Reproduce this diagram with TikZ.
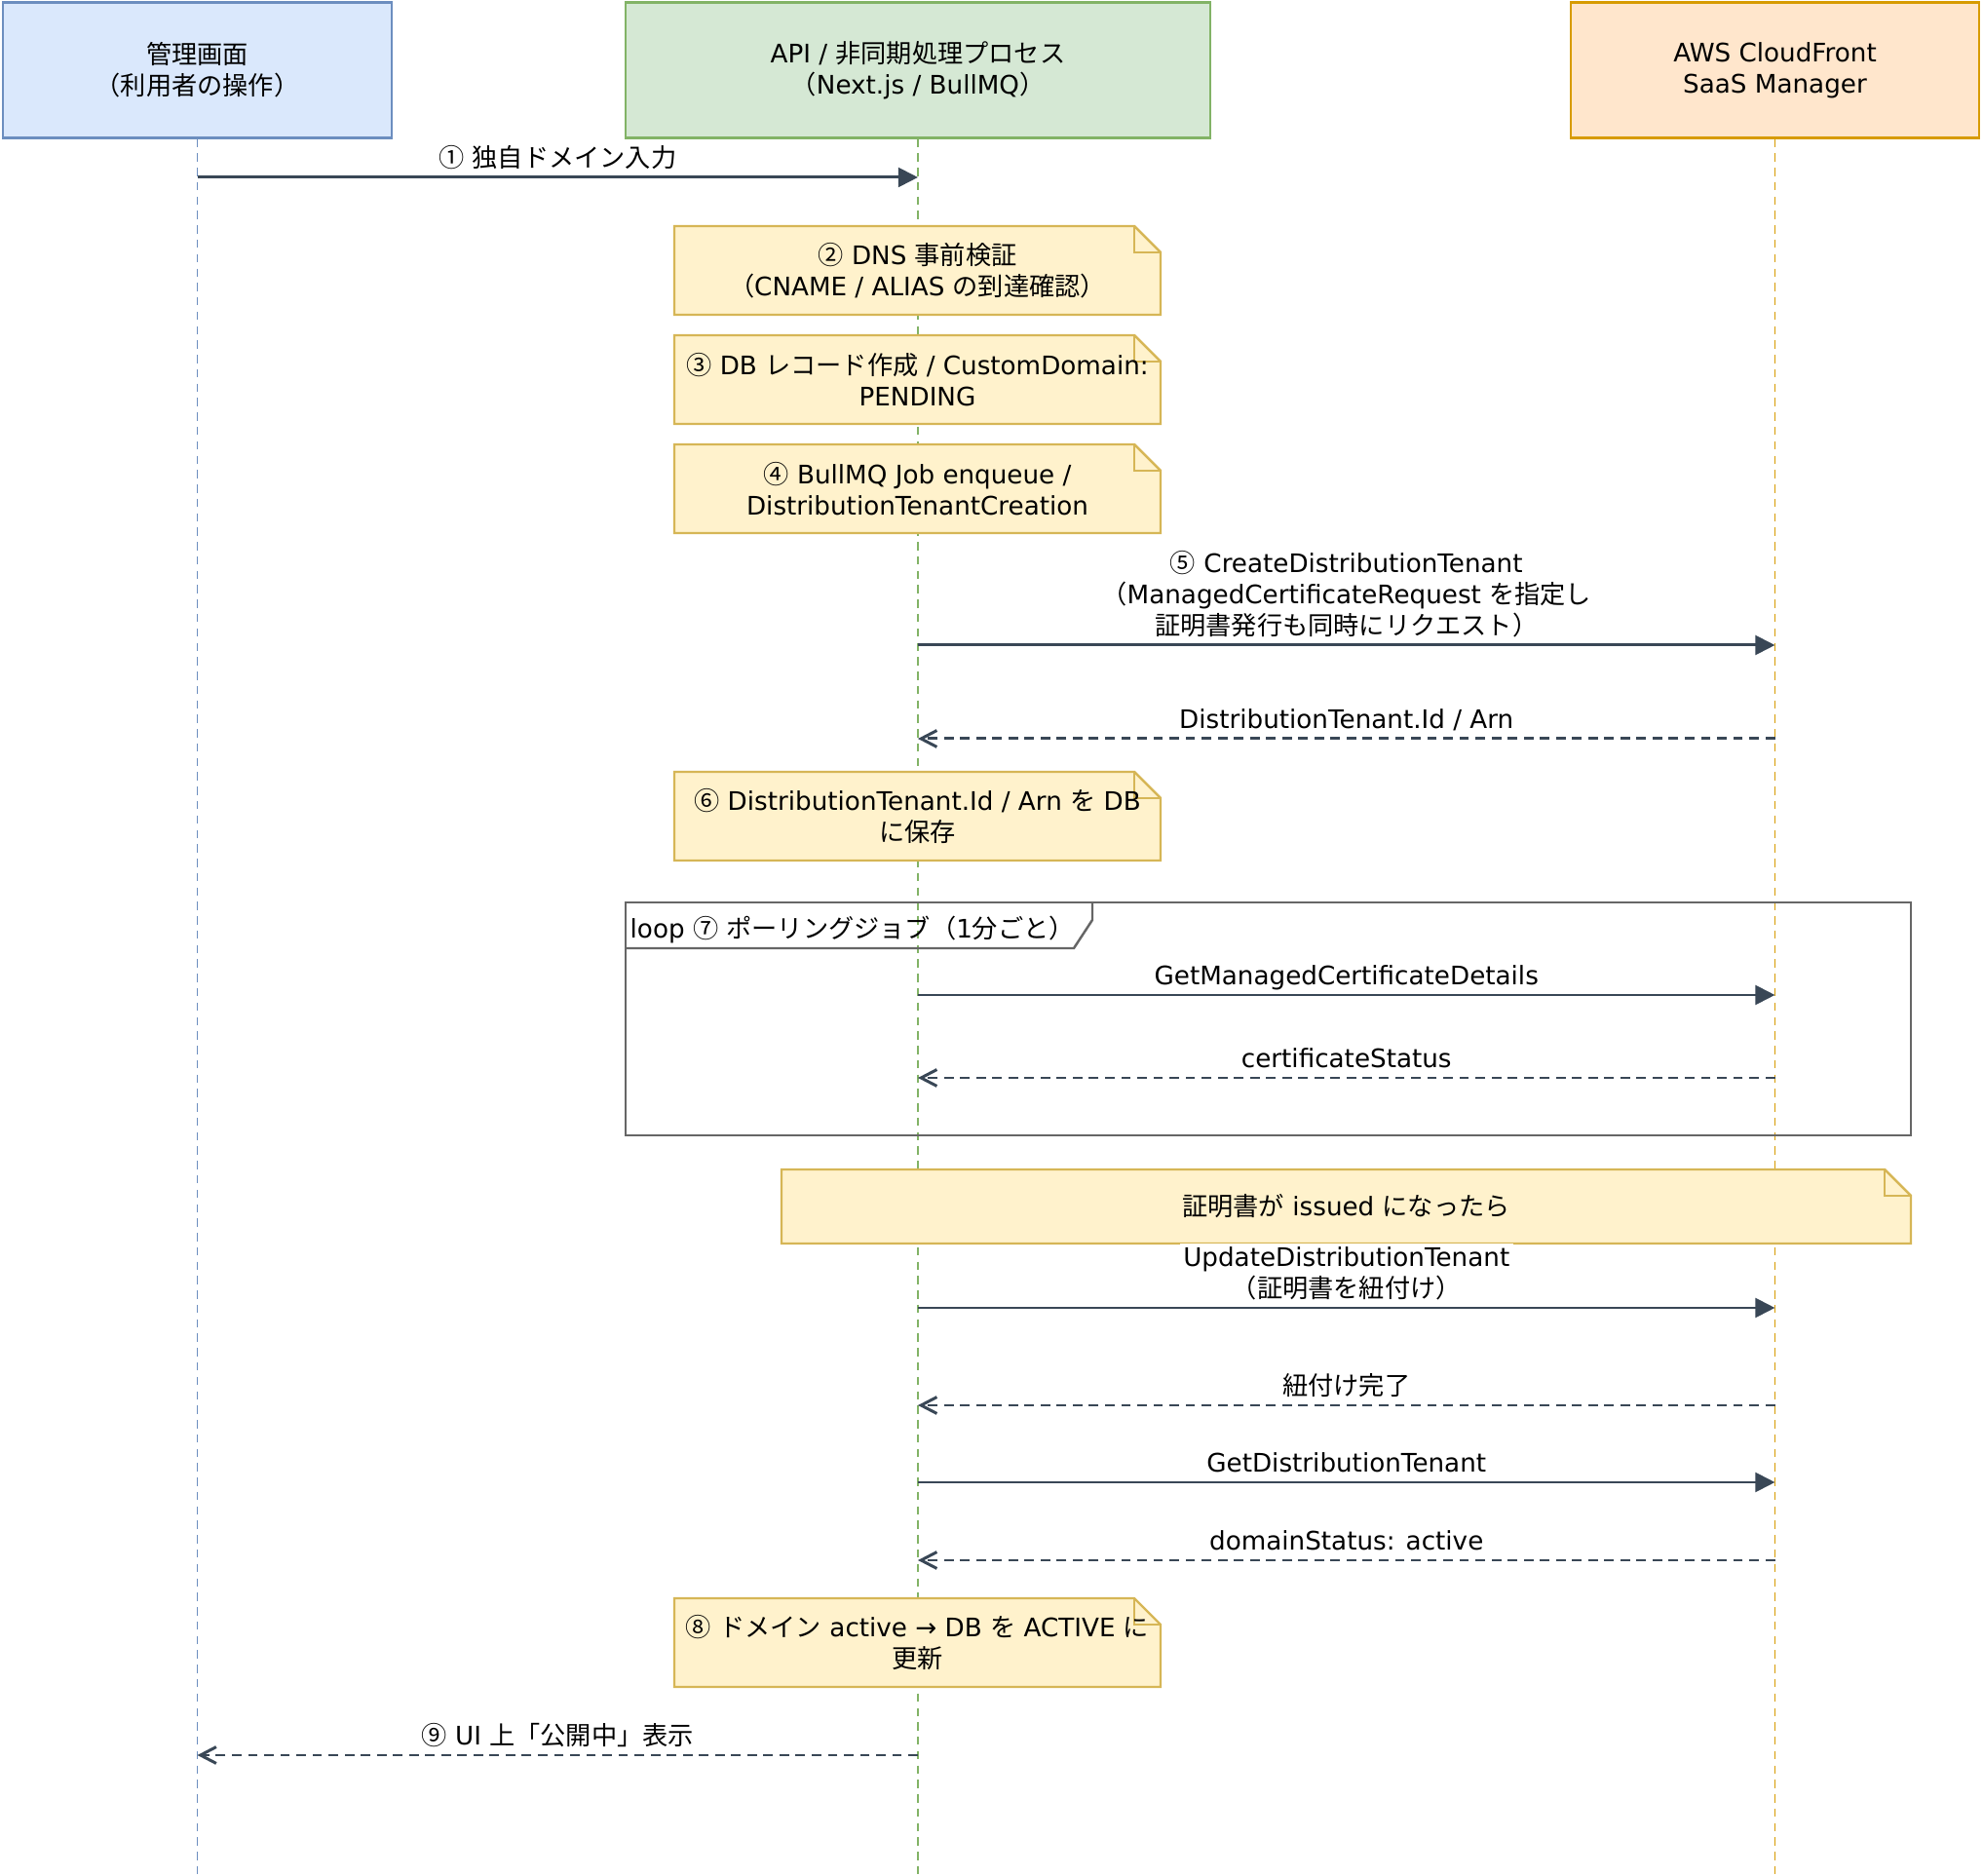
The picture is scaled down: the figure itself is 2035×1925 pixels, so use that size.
\documentclass[tikz,border=0pt]{standalone}
\usepackage{fontspec}
\setmainfont{DejaVu Sans}
\newfontfamily\jpfont{Noto Sans CJK JP}
\usetikzlibrary{arrows.meta,positioning}

\chardef\jpclass=10
\newcount\jpc
\newcommand\jprange[2]{\jpc=#1\relax
  \loop\XeTeXcharclass\jpc=\jpclass\relax\ifnum\jpc<#2\relax\advance\jpc by 1\repeat}
\jprange{"2460}{"24FF}
\jprange{"3000}{"30FF}
\jprange{"4E00}{"9FFF}
\jprange{"FF00}{"FFEF}
\XeTeXinterchartoks 0 \jpclass = {\jpfont}
\XeTeXinterchartoks 4095 \jpclass = {\jpfont}
\XeTeXinterchartoks \jpclass 0 = {\rmfamily}
\XeTeXinterchartoks \jpclass 4095 = {\rmfamily}
\XeTeXinterchartokenstate=1

\newcommand\dsz{\fontsize{7.45}{9.2}\selectfont}

\definecolor{admFill}{HTML}{DAE8FC}
\definecolor{admLine}{HTML}{6C8EBF}
\definecolor{apiFill}{HTML}{D5E8D4}
\definecolor{apiLine}{HTML}{82B366}
\definecolor{cfFill}{HTML}{FFE6CC}
\definecolor{cfLine}{HTML}{D79B00}
\definecolor{noteFill}{HTML}{FFF2CC}
\definecolor{noteLine}{HTML}{D6B656}
\definecolor{msgCol}{HTML}{394756}
\definecolor{frameCol}{HTML}{666666}

\newcommand\notebox[6]{%
  \filldraw[notebg] (#2,#3) -- ({#4-27},#3) -- (#4,{#3+27}) -- (#4,#5) -- (#2,#5) -- cycle;
  \draw[noteedge] ({#4-27},#3) -- ({#4-27},{#3+27}) -- (#4,{#3+27});
  \node[notetxt] (#1) at ({(#2+#4)/2},{(#3+#5)/2}) {#6};}

\begin{document}
\begin{tikzpicture}[x=0.01cm,y=-0.01cm,font=\dsz,
  actor/.style={draw,line width=0.6pt,minimum width=#1,minimum height=1.39cm,align=center,inner sep=0pt},
  life/.style={line width=0.5pt,dash pattern=on 2.4pt off 1.8pt},
  call/.style={draw=msgCol,line width=0.85pt,-{Triangle[length=5.7pt,width=5.6pt]}},
  reply/.style={draw=msgCol,line width=0.85pt,dash pattern=on 2.8pt off 1.9pt,-{Straight Barb[length=4.6pt,width=4.8pt]}},
  lbl/.style={fill=white,inner sep=1pt,align=center,anchor=south,text depth=0.15em},
  notebg/.style={fill=noteFill,draw=noteLine,line width=0.7pt},
  noteedge/.style={draw=noteLine,line width=0.7pt},
  notetxt/.style={align=center,inner sep=0pt},
  frame/.style={draw=frameCol,line width=0.7pt}]
\useasboundingbox (0,0) rectangle (2035,1925);

\node[actor=3.99cm,fill=admFill,draw=admLine] (adm) at (202.5,72) {管理画面\\（利用者の操作）};
\node[actor=6cm,fill=apiFill,draw=apiLine] (api) at (942,72) {API / 非同期処理プロセス\\（Next.js / BullMQ）};
\node[actor=4.19cm,fill=cfFill,draw=cfLine] (cf) at (1821.5,72) {AWS CloudFront\\SaaS Manager};

\coordinate (admEnd) at (adm.south |- 0,1925);
\coordinate (apiEnd) at (api.south |- 0,1925);
\coordinate (cfEnd) at (cf.south |- 0,1925);
\draw[life,admLine] (adm.south) -- (admEnd);
\draw[life,apiLine] (api.south) -- (apiEnd);
\draw[life,cfLine] (cf.south) -- (cfEnd);

\foreach \m/\y in {m1/182,m5/662,m5r/758,m7/1021,m7r/1106,mu/1342,mur/1442,mg/1521,mgr/1601,m9/1801} {
  \coordinate (\m a) at (adm.south |- 0,\y);
  \coordinate (\m b) at (api.south |- 0,\y);
  \coordinate (\m c) at (cf.south |- 0,\y);
}

\notebox{n2}{692}{232}{1191}{323}{② DNS 事前検証\\（CNAME / ALIAS の到達確認）}
\notebox{n3}{692}{344}{1191}{435}{③ DB レコード作成 / CustomDomain:\\PENDING}
\notebox{n4}{692}{456}{1191}{547}{④ BullMQ Job enqueue /\\DistributionTenantCreation}
\notebox{n6}{692}{792}{1191}{883}{⑥ DistributionTenant.Id / Arn を DB\\に保存}
\notebox{n8}{692}{1640}{1191}{1731}{⑧ ドメイン active → DB を ACTIVE に\\更新}

\draw[frame] (642,926) rectangle (1961,1165);
\draw[frame] (642,973) -- (1102,973) -- (1121,944) -- (1121,926);
\node[anchor=west,inner sep=0pt] (loopLbl) at (646,954) {loop ⑦ ポーリングジョブ（1分ごと）};

\notebox{nIss}{802}{1200}{1961}{1276}{証明書が issued になったら}

\draw[call] (m1a) -- node[lbl] {① 独自ドメイン入力} (m1b);
\draw[call] (m5b) -- node[lbl] {⑤ CreateDistributionTenant\\（ManagedCertificateRequest を指定し\\証明書発行も同時にリクエスト）} (m5c);
\draw[reply] (m5rc) -- node[lbl] {DistributionTenant.Id / Arn} (m5rb);
\draw[call] (m7b) -- node[lbl] {GetManagedCertificateDetails} (m7c);
\draw[reply] (m7rc) -- node[lbl] {certificateStatus} (m7rb);
\draw[call] (mub) -- node[lbl] {UpdateDistributionTenant\\（証明書を紐付け）} (muc);
\draw[reply] (murc) -- node[lbl] {紐付け完了} (murb);
\draw[call] (mgb) -- node[lbl] {GetDistributionTenant} (mgc);
\draw[reply] (mgrc) -- node[lbl] {domainStatus: active} (mgrb);
\draw[reply] (m9b) -- node[lbl] {⑨ UI 上「公開中」表示} (m9a);
\end{tikzpicture}
\end{document}
